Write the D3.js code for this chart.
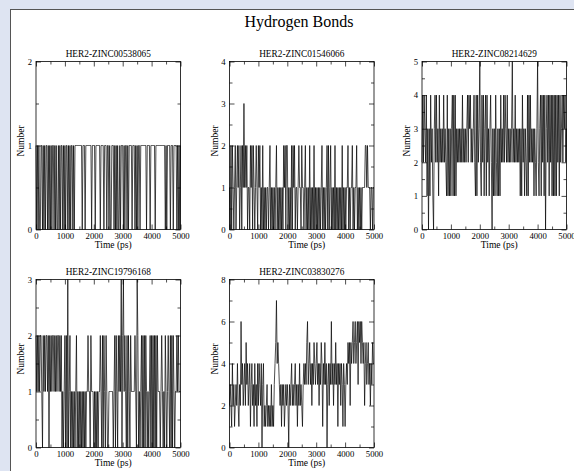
<!DOCTYPE html>
<html>
<head>
<meta charset="utf-8">
<script src="https://cdn.jsdelivr.net/npm/d3@7"></script>
<style>
    html, body { margin: 0; padding: 0; background: #dee4f2; overflow: hidden; }
    svg { display: block; }
    text { font-family: "Liberation Serif", "Times New Roman", serif; fill: #000; }
</style>
</head>
<body>
<div id="root"></div>
<script>
// hydrogen bond counts, one sample every dt ps (groups of 20 samples = 500 ps)
var dt = 25;

var titles = ["HER2-ZINC00538065", "HER2-ZINC01546066", "HER2-ZINC08214629",
              "HER2-ZINC19796168", "HER2-ZINC03830276"];
var yMax = [2, 4, 5, 3, 8];
var yStep = [1, 1, 1, 1, 2];
var xTicks = [0, 1000, 2000, 3000, 4000, 5000];

var hb1 = "10101001101010110101 01011010100101011010 10110101011010111111 11110111011111111011 " +
          "11011111101111011101 10100111010101001011 10101101011110111010 10110111111110111101 " +
          "11111011111111111110 10111101110111101010 1";
var hb2 = "10202101201212012021 31212011021202101210 21201020101011012010 10101201010101021202 " +
          "20101020212011012110 21101201010201010201 01010101201010120201 20101020101010102010 " +
          "10112010112010112010 10101111221211101101 1";
var hb3 = "24243241303142310342 42314232324232141313 13414141323232324232 32342434232342141423 " +
          "52142413414231342031 31421313142324243242 32323523242323231314 23132141424232313213 " +
          "52134142414034241424 14141414241423424342 3";
var hb4 = "21212122102121221202 12122121212212120101 20203012010101012010 10101010101121102111 " +
          "01010101121020210210 01111110120210212130 23121020210211111210 32010120202021010120 " +
          "20202020211101210102 10121020202101121211 1";
var hb5 = "23214231232421326342 34253423413423142314 24324034121231212131 21345745432313231232 " +
          "32032342323423132423 21343435634534243543 45342435414353403424 36342435341434243143 " +
          "13435452545645645636 56465452453453424354 4";

var series = [hb1, hb2, hb3, hb4, hb5];

var W = 574, H = 471;
var plotW = 144.5, plotH = 168;
var lefts = [36, 229.5, 422, 36, 229.5];
var tops = [61.5, 61.5, 61.5, 279.5, 279.5];
var serif = "'Liberation Serif', 'Times New Roman', serif";

var svg = d3.select("#root").append("svg")
    .attr("width", W)
    .attr("height", H);

svg.append("rect")
    .attr("x", 10.5).attr("y", 9.5)
    .attr("width", W).attr("height", H)
    .attr("fill", "#fff")
    .attr("stroke", "#555")
    .attr("stroke-width", 1);

svg.append("text")
    .attr("x", 299)
    .attr("y", 27)
    .attr("text-anchor", "middle")
    .style("font-size", "16px")
    .text("Hydrogen Bonds");

series.forEach(function (str, p) {
    var vals = str.replace(/\s+/g, "").split("").map(Number);
    var data = vals.map(function (v, i) { return [i * dt, v]; });

    var g = svg.append("g")
        .attr("transform", "translate(" + lefts[p] + "," + tops[p] + ")");

    var x = d3.scaleLinear().domain([0, 5000]).range([0, plotW]);
    var y = d3.scaleLinear().domain([0, yMax[p]]).range([plotH, 0]);

    var yTicks = d3.range(0, yMax[p] + 0.001, yStep[p]);
    var yMinor = d3.range(yStep[p] / 2, yMax[p], yStep[p]);
    var xMinor = d3.range(500, 5000, 1000);

    // data line
    g.append("path")
        .datum(data)
        .attr("fill", "none")
        .attr("stroke", "#000")
        .attr("stroke-width", 0.7)
        .attr("d", d3.line()
            .x(function (d) { return x(d[0]); })
            .y(function (d) { return y(d[1]); }));

    // axes: labelled major ticks, minor ticks, mirrored ticks, all pointing in
    g.append("g")
        .attr("class", "axis")
        .attr("transform", "translate(0," + plotH + ")")
        .call(d3.axisBottom(x).tickValues(xTicks).tickSize(-5).tickPadding(3)
            .tickFormat(d3.format("d")));
    g.append("g")
        .attr("transform", "translate(0," + plotH + ")")
        .call(d3.axisBottom(x).tickValues(xMinor).tickSize(-3).tickFormat(""));
    g.append("g")
        .call(d3.axisTop(x).tickValues(xTicks).tickSize(-5).tickFormat(""));
    g.append("g")
        .call(d3.axisTop(x).tickValues(xMinor).tickSize(-3).tickFormat(""));

    g.append("g")
        .attr("class", "axis")
        .call(d3.axisLeft(y).tickValues(yTicks).tickSize(-5).tickPadding(4)
            .tickFormat(d3.format("d")));
    g.append("g")
        .call(d3.axisLeft(y).tickValues(yMinor).tickSize(-3).tickFormat(""));
    g.append("g")
        .attr("transform", "translate(" + plotW + ",0)")
        .call(d3.axisRight(y).tickValues(yTicks).tickSize(-5).tickFormat(""));
    g.append("g")
        .attr("transform", "translate(" + plotW + ",0)")
        .call(d3.axisRight(y).tickValues(yMinor).tickSize(-3).tickFormat(""));

    g.selectAll(".domain").remove();
    g.selectAll(".tick line").attr("stroke", "#000").attr("stroke-width", 0.7);
    g.selectAll(".axis")
        .attr("font-family", serif)
        .attr("font-size", 8.7);
    g.selectAll(".axis text")
        .style("font-family", serif)
        .style("font-size", "8.7px")
        .style("fill", "#000");

    g.append("rect")
        .attr("width", plotW)
        .attr("height", plotH)
        .attr("fill", "none")
        .attr("stroke", "#000")
        .attr("stroke-width", 0.8);

    g.append("text")
        .attr("x", plotW / 2)
        .attr("y", -5)
        .attr("text-anchor", "middle")
        .style("font-size", "9.3px")
        .text(titles[p]);

    g.append("text")
        .attr("x", plotW / 2 + 5)
        .attr("y", plotH + 18.5)
        .attr("text-anchor", "middle")
        .style("font-size", "9.5px")
        .text("Time (ps)");

    g.append("text")
        .attr("transform", "translate(-12," + (plotH / 2 - 4.5) + ") rotate(-90)")
        .attr("text-anchor", "middle")
        .style("font-size", "9.5px")
        .text("Number");
});
</script>
</body>
</html>
